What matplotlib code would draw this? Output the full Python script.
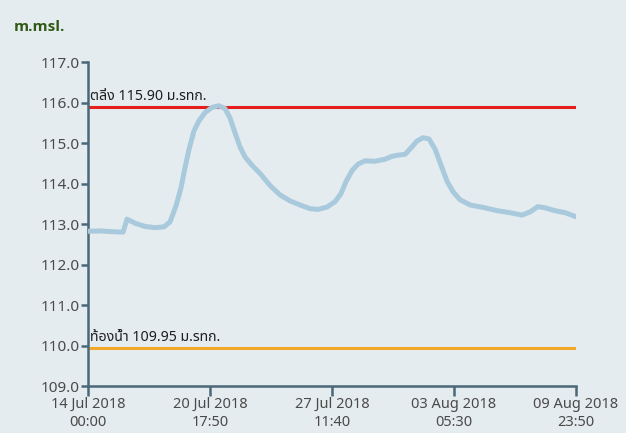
import numpy as np
import pandas as pd
import matplotlib
matplotlib.use("Agg")
import matplotlib.pyplot as plt

# water level readings (m.msl.)
times = [
    "2018-07-14 00:00", "2018-07-14 16:00", "2018-07-15 07:50", "2018-07-15 22:30",
    "2018-07-16 03:50", "2018-07-16 14:20", "2018-07-17 03:40", "2018-07-17 16:50",
    "2018-07-18 04:50", "2018-07-18 12:50", "2018-07-18 20:50", "2018-07-19 03:30",
    "2018-07-19 08:50", "2018-07-19 14:10", "2018-07-19 20:40", "2018-07-20 03:20",
    "2018-07-20 11:20", "2018-07-20 20:40", "2018-07-21 05:50", "2018-07-21 13:50",
    "2018-07-21 20:30", "2018-07-22 03:10", "2018-07-22 09:50", "2018-07-22 16:20",
    "2018-07-23 01:40", "2018-07-23 12:20", "2018-07-24 01:40", "2018-07-24 14:50",
    "2018-07-25 04:10", "2018-07-25 17:30", "2018-07-26 06:40", "2018-07-26 17:20",
    "2018-07-27 05:20", "2018-07-27 15:50", "2018-07-27 23:50", "2018-07-28 06:30",
    "2018-07-28 14:30", "2018-07-28 22:30", "2018-07-29 07:40", "2018-07-29 21:00",
    "2018-07-30 10:20", "2018-07-30 19:30", "2018-07-31 03:30", "2018-07-31 12:50",
    "2018-07-31 20:50", "2018-08-01 04:50", "2018-08-01 12:40", "2018-08-01 20:40",
    "2018-08-02 04:40", "2018-08-02 12:40", "2018-08-02 20:40", "2018-08-03 04:30",
    "2018-08-03 13:50", "2018-08-04 03:10", "2018-08-04 20:20", "2018-08-05 14:50",
    "2018-08-06 08:10", "2018-08-07 00:10", "2018-08-07 10:50", "2018-08-07 21:20",
    "2018-08-08 06:40", "2018-08-08 19:50", "2018-08-09 09:10", "2018-08-09 23:50",
]
levels = [
    112.82, 112.83, 112.81, 112.80, 113.12, 113.02, 112.94, 112.91,
    112.93, 113.05, 113.45, 113.90, 114.40, 114.85, 115.30, 115.55,
    115.75, 115.88, 115.92, 115.85, 115.62, 115.25, 114.90, 114.66,
    114.45, 114.25, 113.95, 113.72, 113.57, 113.47, 113.38, 113.36,
    113.42, 113.55, 113.75, 114.05, 114.32, 114.48, 114.56, 114.55,
    114.60, 114.67, 114.70, 114.72, 114.88, 115.05, 115.13, 115.10,
    114.85, 114.45, 114.05, 113.80, 113.60, 113.47, 113.41, 113.33,
    113.28, 113.22, 113.30, 113.43, 113.40, 113.33, 113.28, 113.18,
]

bank_level = 115.90
bed_level = 109.95
bank_label = "ตลิ่ง 115.90 ม.รทก."
bed_label = "ท้องน้ำ 109.95 ม.รทก."

x_ticks = ["2018-07-14 00:00", "2018-07-20 17:50", "2018-07-27 11:40",
           "2018-08-03 05:30", "2018-08-09 23:50"]
y_ticks = [109.0, 110.0, 111.0, 112.0, 113.0, 114.0, 115.0, 116.0, 117.0]

plt.rcParams['font.family'] = ['Noto Sans', 'Noto Sans Thai', 'DejaVu Sans']

bg = "#e5ecef"
spine_col = "#4a6878"

fig = plt.figure(figsize=(6.26, 4.33), dpi=100, facecolor=bg)
ax = fig.add_axes([0.1406, 0.1085, 0.7796, 0.7483])
ax.set_facecolor(bg)

t = pd.to_datetime(times)
ax.plot(t, levels, color="#a9c9dc", lw=3.6, solid_capstyle="round",
        solid_joinstyle="round", zorder=3)

t0, t1 = pd.Timestamp(x_ticks[0]), pd.Timestamp(x_ticks[-1])
ax.plot([t0, t1], [bank_level, bank_level], color="#e41f1c", lw=2.2, zorder=2)
ax.plot([t0, t1], [bed_level, bed_level], color="#f2a92a", lw=2.2, zorder=2)

ax.text(t0 + pd.Timedelta(hours=3), bank_level + 0.15, bank_label,
        fontsize=10.2, color="#1e1e1e", va="baseline", ha="left", zorder=4)
ax.text(t0 + pd.Timedelta(hours=3), bed_level + 0.15, bed_label,
        fontsize=10.2, color="#1e1e1e", va="baseline", ha="left", zorder=4)

ax.set_xlim(t0, t1)
ax.set_ylim(109.0, 117.0)
ax.set_yticks(y_ticks)
ax.set_yticklabels([f"{v:.1f}" for v in y_ticks])
xt = pd.to_datetime(x_ticks)
ax.set_xticks(xt)
ax.set_xticklabels([d.strftime("%d %b %Y\n%H:%M") for d in xt], linespacing=1.3)

for s in ["top", "right"]:
    ax.spines[s].set_visible(False)
for s in ["left", "bottom"]:
    ax.spines[s].set_color(spine_col)
    ax.spines[s].set_linewidth(1.8)
ax.tick_params(axis="y", length=5, width=1.8, color=spine_col,
               labelsize=11, labelcolor="#4a4a4a", pad=1)
ax.tick_params(axis="x", length=7, width=1.8, color=spine_col,
               labelsize=10.5, labelcolor="#4a4a4a", pad=1)

fig.text(14 / 626, 1 - 27 / 433, "m.msl.", family=["Open Sans", "DejaVu Sans"],
         fontsize=11, fontweight="bold", color="#2f5a16", va="center", ha="left")

fig.savefig("out.png", dpi=100, facecolor=bg)
